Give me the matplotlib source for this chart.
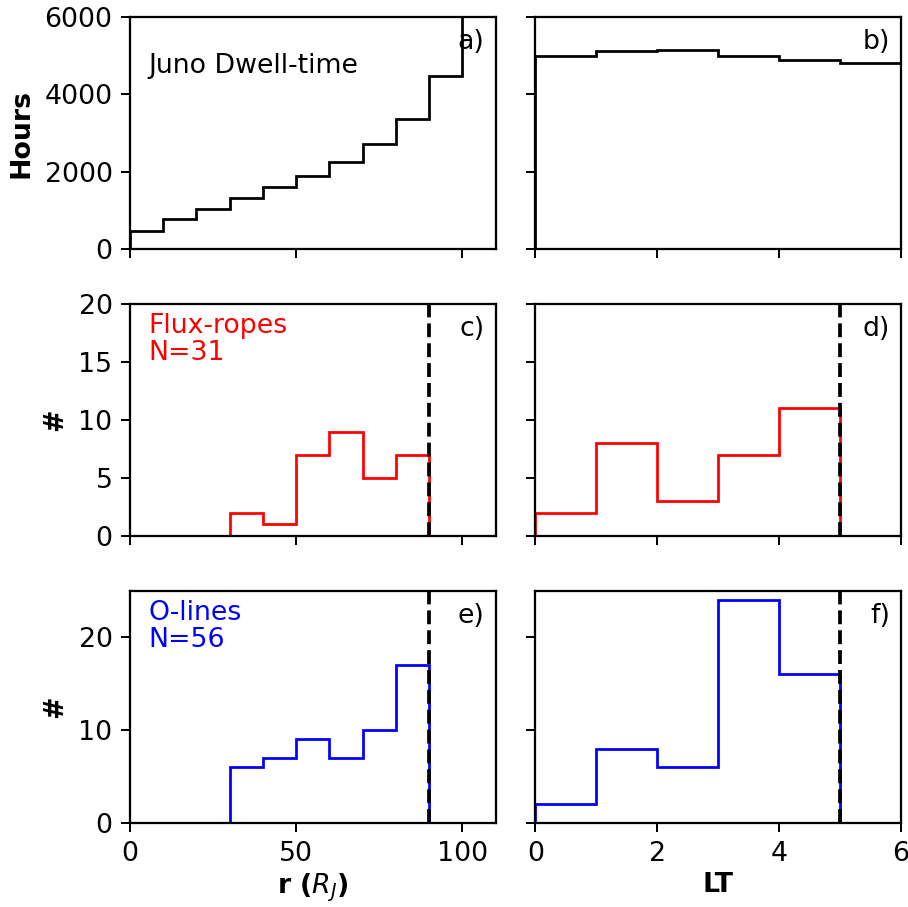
#! /usr/bin/python3

import matplotlib
matplotlib.use('Agg')
import matplotlib.pyplot as plt

# bin edges
r_edges = [0, 10, 20, 30, 40, 50, 60, 70, 80, 90, 100, 110]
lt_edges = [0, 1, 2, 3, 4, 5, 6, 7]
r_event_edges = [0, 10, 20, 30, 40, 50, 60, 70, 80, 90, 100]
lt_event_edges = [0, 1, 2, 3, 4, 5, 6]

# Juno dwell-time (hours)
dwell_r = [460, 790, 1040, 1310, 1600, 1890, 2245, 2710, 3370, 4470, 7000]
dwell_lt = [4990, 5125, 5145, 4990, 4900, 4800, 1030]

# flux-ropes
fr_r = [0, 0, 0, 2, 1, 7, 9, 5, 7, 0]
fr_lt = [2, 8, 3, 7, 11, 0]

# O-lines
ol_r = [0, 0, 0, 6, 7, 9, 7, 10, 17, 0]
ol_lt = [2, 8, 6, 24, 16, 0]

panel_labels = ['a)', 'b)', 'c)', 'd)', 'e)', 'f)']

R_LIMIT = 90
LT_LIMIT = 5


def plot_histograms(output_file='out.png'):
    plt.rcParams['font.size'] = 10.7
    plt.rcParams['axes.linewidth'] = 0.9
    fig, axes = plt.subplots(3, 2, sharex='col', sharey='row')
    fig.set_size_inches(908 / 180, 907 / 180)
    fig.subplots_adjust(left=0.1432, right=0.9923, bottom=0.0926, top=0.9813,
                        wspace=0.109, hspace=0.236)

    # top row: dwell time
    axes[0, 0].stairs(dwell_r, r_edges, color='k', lw=1.1)
    axes[0, 1].stairs(dwell_lt, lt_edges, color='k', lw=1.1)
    axes[0, 0].set_ylim(0, 6000)
    axes[0, 0].set_ylabel('Hours', fontweight='bold')
    axes[0, 0].text(0.05, 0.79, 'Juno Dwell-time', transform=axes[0, 0].transAxes,
                    va='center', ha='left')

    # middle row: flux-ropes
    axes[1, 0].stairs(fr_r, r_event_edges, color='r', lw=1.1)
    axes[1, 1].stairs(fr_lt, lt_event_edges, color='r', lw=1.1)
    axes[1, 0].set_ylim(0, 20)
    axes[1, 0].set_yticks([0, 5, 10, 15, 20])
    axes[1, 0].set_ylabel('#', fontweight='bold')
    axes[1, 0].text(0.05, 0.96, 'Flux-ropes\nN=%d' % sum(fr_r), color='r',
                    transform=axes[1, 0].transAxes, va='top', ha='left',
                    linespacing=1.05)

    # bottom row: O-lines
    axes[2, 0].stairs(ol_r, r_event_edges, color='b', lw=1.1)
    axes[2, 1].stairs(ol_lt, lt_event_edges, color='b', lw=1.1)
    axes[2, 0].set_ylim(0, 25)
    axes[2, 0].set_yticks([0, 10, 20])
    axes[2, 0].set_ylabel('#', fontweight='bold')
    axes[2, 0].text(0.05, 0.96, 'O-lines\nN=%d' % sum(ol_r), color='b',
                    transform=axes[2, 0].transAxes, va='top', ha='left',
                    linespacing=1.05)

    # orbit coverage limits
    for row in (1, 2):
        axes[row, 0].axvline(R_LIMIT, color='k', ls='--', lw=1.5)
        axes[row, 1].axvline(LT_LIMIT, color='k', ls='--', lw=1.5)

    axes[2, 0].set_xlim(0, 110)
    axes[2, 0].set_xticks([0, 50, 100])
    axes[2, 1].set_xlim(0, 6)
    axes[2, 1].set_xticks([0, 2, 4, 6])
    axes[2, 0].set_xlabel(r'r ($R_J$)', fontweight='bold', labelpad=2)
    axes[2, 1].set_xlabel('LT', fontweight='bold', labelpad=2)

    for ax, lab in zip(axes.flat, panel_labels):
        ax.text(0.97, 0.89, lab, transform=ax.transAxes, ha='right', va='center')

    fig.savefig(output_file, dpi=180)


def main():
    plot_histograms('out.png')


if __name__ == '__main__':
    main()
